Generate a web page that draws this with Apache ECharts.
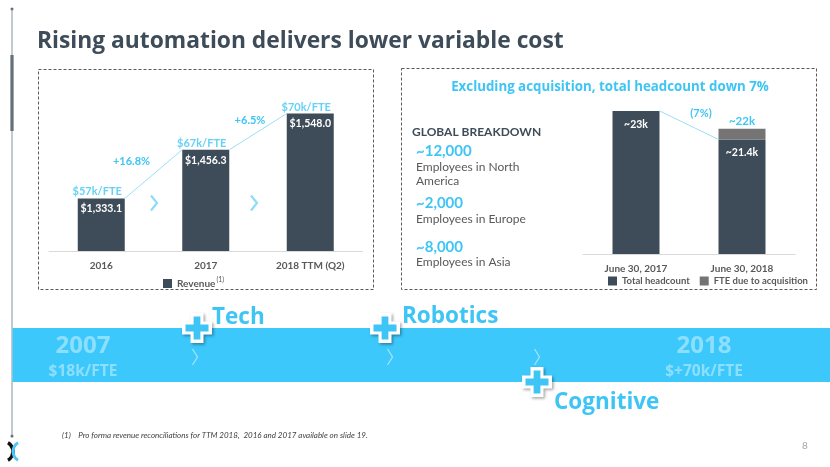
<!DOCTYPE html>
<html>
<head>
<meta charset="utf-8">
<script src="https://cdn.jsdelivr.net/npm/echarts@6/dist/echarts.min.js"></script>
<style>
html,body{margin:0;padding:0;background:#fff;}
#c{width:830px;height:467px;}
</style>
</head>
<body>
<div id="c"></div>
<script>
// ---------- data ----------
const pageTitle = 'Rising automation delivers lower variable cost';
const revenueCats = ['2016', '2017', '2018 TTM (Q2)'];
const revenue = [1333.1, 1456.3, 1548.0];
const revenueLabels = ['$1,333.1', '$1,456.3', '$1,548.0'];
const fteLabels = ['$57k/FTE', '$67k/FTE', '$70k/FTE'];
const growthLabels = ['+16.8%', '+6.5%'];

const headcountTitle = 'Excluding acquisition, total headcount down 7%';
const headcountCats = ['June 30, 2017', 'June 30, 2018'];
const totalHeadcount = [23, 21.4];
const acquisitionFte = ['-', 0.6];
const headcountLabels = ['~23k', '~21.4k'];
const stackTotalLabels = ['', '~22k'];
const headcountChange = ['(7%)'];

const breakdownTitle = 'GLOBAL BREAKDOWN';
const breakdownValues = ['~12,000', '~2,000', '~8,000'];
const breakdownLabels = ['Employees in North\nAmerica', 'Employees in Europe', 'Employees in Asia'];

const timelineYears = ['2007', '2018'];
const timelineFte = ['$18k/FTE', '$+70k/FTE'];
const timelineSteps = ['Tech', 'Robotics', 'Cognitive'];
const footnote = '(1)    Pro forma revenue reconciliations for TTM 2018,  2016 and 2017 available on slide 19.';
const pageNumber = '8';

// ---------- style ----------
const FONT = 'Lato, "Open Sans", sans-serif';
const WFONT = '"Open Sans", Lato, sans-serif';
const DARK = '#3e4c59';
const CYAN = '#3ec5f5';
const LINE_CYAN = '#9adff8';
const BAND = '#3cc8fb';
const GREY_BAR = '#747474';
const AXIS_TXT = '#595959';
const LEFT_BAR_W = 47;
const RIGHT_BAR_W = 47;
const growthLabelOffsets = [[-22, -13], [-8, -11]];

const chart = echarts.init(document.getElementById('c'), null, {renderer: 'canvas'});

function crossPts(cx, cy, L, T) {
  return [
    [cx - T, cy - L], [cx + T, cy - L], [cx + T, cy - T], [cx + L, cy - T],
    [cx + L, cy + T], [cx + T, cy + T], [cx + T, cy + L], [cx - T, cy + L],
    [cx - T, cy + T], [cx - L, cy + T], [cx - L, cy - T], [cx - T, cy - T]
  ];
}
function plusIcon(cx, cy) {
  return [
    {type: 'polygon', z: 30, shape: {points: crossPts(cx, cy, 15, 6.5)},
      style: {fill: '#fff', shadowBlur: 3, shadowColor: 'rgba(0,0,0,0.35)', shadowOffsetX: 1.5, shadowOffsetY: 1.5}},
    {type: 'polygon', z: 31, shape: {points: crossPts(cx, cy, 11.5, 3.4)}, style: {fill: CYAN}}
  ];
}
function chevron(x, y, w, h, color, lw, z) {
  return {type: 'polyline', z: z || 3, shape: {points: [[x - w / 2, y - h / 2], [x + w / 2, y], [x - w / 2, y + h / 2]]},
    style: {stroke: color, lineWidth: lw, fill: null}};
}

const graphics = [
  // left vertical rule
  {type: 'line', shape: {x1: 12, y1: 9, x2: 12, y2: 436}, style: {stroke: '#8a949e', lineWidth: 1}, z: 1},
  {type: 'circle', shape: {cx: 12, cy: 9, r: 1.5}, style: {fill: '#5c6670'}},
  {type: 'circle', shape: {cx: 12, cy: 436, r: 1.5}, style: {fill: '#5c6670'}},
  {type: 'rect', shape: {x: 10.5, y: 55, width: 3, height: 76}, style: {fill: DARK}},
  // title
  {type: 'text', x: 37, y: 42, style: {text: pageTitle, font: 'bold 22.8px ' + WFONT, fill: DARK, verticalAlign: 'middle'}},
  // dashed boxes
  {type: 'rect', shape: {x: 38.5, y: 69.5, width: 335, height: 220}, style: {fill: 'none', stroke: '#595959', lineWidth: 1, lineDash: [3, 2]}},
  {type: 'rect', shape: {x: 401.5, y: 68.5, width: 415, height: 221}, style: {fill: 'none', stroke: '#595959', lineWidth: 1, lineDash: [3, 2]}},
  // chevrons between revenue bars
  chevron(154, 203, 6, 15, '#8fdcf8', 2.2),
  chevron(254, 203, 6, 15, '#8fdcf8', 2.2),
  // headcount title
  {type: 'text', x: 610, y: 87, style: {text: headcountTitle, font: 'bold 13.3px ' + WFONT, fill: CYAN, align: 'center', verticalAlign: 'middle'}},
  // breakdown
  {type: 'text', x: 412, y: 132, style: {text: breakdownTitle, font: 'bold 12px ' + FONT, fill: DARK, verticalAlign: 'middle'}},
  {type: 'text', x: 416, y: 151, style: {text: breakdownValues[0], font: 'bold 15px ' + FONT, fill: CYAN, verticalAlign: 'middle'}},
  {type: 'text', x: 416, y: 174, style: {text: breakdownLabels[0], font: '12px ' + FONT, fill: AXIS_TXT, verticalAlign: 'middle', lineHeight: 14}},
  {type: 'text', x: 416, y: 203, style: {text: breakdownValues[1], font: 'bold 15px ' + FONT, fill: CYAN, verticalAlign: 'middle'}},
  {type: 'text', x: 416, y: 219, style: {text: breakdownLabels[1], font: '12px ' + FONT, fill: AXIS_TXT, verticalAlign: 'middle'}},
  {type: 'text', x: 416, y: 247, style: {text: breakdownValues[2], font: 'bold 15px ' + FONT, fill: CYAN, verticalAlign: 'middle'}},
  {type: 'text', x: 416, y: 262, style: {text: breakdownLabels[2], font: '12px ' + FONT, fill: AXIS_TXT, verticalAlign: 'middle'}},
  // timeline band
  {type: 'rect', shape: {x: 12.5, y: 328, width: 818, height: 54}, style: {fill: BAND}, z: 2},
  {type: 'text', x: 83, y: 346, z: 3, style: {text: timelineYears[0], font: 'bold 24px ' + WFONT, fill: 'rgba(255,255,255,0.42)', align: 'center', verticalAlign: 'middle'}},
  {type: 'text', x: 83, y: 372, z: 3, style: {text: timelineFte[0], font: 'bold 15.5px ' + WFONT, fill: 'rgba(255,255,255,0.42)', align: 'center', verticalAlign: 'middle'}},
  {type: 'text', x: 704, y: 346, z: 3, style: {text: timelineYears[1], font: 'bold 24px ' + WFONT, fill: 'rgba(255,255,255,0.42)', align: 'center', verticalAlign: 'middle'}},
  {type: 'text', x: 704, y: 372, z: 3, style: {text: timelineFte[1], font: 'bold 15.5px ' + WFONT, fill: 'rgba(255,255,255,0.42)', align: 'center', verticalAlign: 'middle'}},
  chevron(195, 357, 5, 16, 'rgba(255,255,255,0.5)', 1.3),
  chevron(390, 357, 5, 16, 'rgba(255,255,255,0.5)', 1.3),
  chevron(537, 357, 5, 16, 'rgba(255,255,255,0.5)', 1.3)
].concat(plusIcon(197, 328), plusIcon(385, 328), plusIcon(537, 382), [
  {type: 'text', x: 212, y: 318, z: 32, style: {text: timelineSteps[0], font: 'bold 22.5px ' + WFONT, fill: CYAN, verticalAlign: 'middle'}},
  {type: 'text', x: 402, y: 317, z: 32, style: {text: timelineSteps[1], font: 'bold 22.5px ' + WFONT, fill: CYAN, verticalAlign: 'middle'}},
  {type: 'text', x: 554, y: 403, z: 32, style: {text: timelineSteps[2], font: 'bold 22.5px ' + WFONT, fill: CYAN, verticalAlign: 'middle'}},
  // footnote, page number, logo
  {type: 'text', x: 62, y: 435, style: {text: footnote, font: 'italic 8px ' + FONT, fill: '#404040', verticalAlign: 'middle'}},
  {type: 'text', x: 805, y: 446, style: {text: pageNumber, font: '10px ' + FONT, fill: '#a6a6a6', align: 'center', verticalAlign: 'middle'}},
  {type: 'arc', shape: {cx: 3, cy: 451.5, r: 10, startAngle: -1.05, endAngle: 1.05}, style: {stroke: '#111', lineWidth: 3.4, fill: null}},
  {type: 'arc', shape: {cx: 23, cy: 451.5, r: 10, startAngle: Math.PI - 1.05, endAngle: Math.PI + 1.05}, style: {stroke: '#4cc8f5', lineWidth: 2.8, fill: null}}
]);

function connectorItem(values, labels, barW, offsets) {
  return function (params, api) {
    const i = api.value(0);
    const p0 = api.coord([i, values[i]]);
    const p1 = api.coord([i + 1, values[i + 1]]);
    const x1 = p0[0] + barW / 2, y1 = p0[1];
    const x2 = p1[0] - barW / 2, y2 = p1[1];
    const mx = (x1 + x2) / 2, my = (y1 + y2) / 2;
    const off = offsets[i];
    return {
      type: 'group',
      children: [
        {type: 'line', shape: {x1: x1, y1: y1, x2: x2, y2: y2}, style: {stroke: LINE_CYAN, lineWidth: 1}},
        {type: 'text', style: {text: labels[i], x: mx + off[0], y: my + off[1], align: 'center',
          verticalAlign: 'middle', fill: CYAN, font: 'bold 11px ' + FONT}}
      ]
    };
  };
}

const option = {
  animation: false,
  textStyle: {fontFamily: FONT},
  graphic: graphics,
  legend: [
    {
      left: 158, top: 271, itemWidth: 9, itemHeight: 9, itemGap: 10, icon: 'rect',
      data: ['Revenue'],
      formatter: function (n) { return n + '{sup|(1)}'; },
      textStyle: {fontSize: 10, fontWeight: 'bold', color: AXIS_TXT, fontFamily: FONT,
        rich: {sup: {fontSize: 7, fontWeight: 'normal', color: AXIS_TXT, fontFamily: FONT, padding: [0, 0, 8, 1]}}}
    },
    {
      left: 603, top: 271, itemWidth: 9, itemHeight: 9, itemGap: 10, icon: 'rect',
      data: ['Total headcount', 'FTE due to acquisition'],
      textStyle: {fontSize: 9.5, fontWeight: 'bold', color: AXIS_TXT, fontFamily: FONT}
    }
  ],
  grid: [
    {left: 49, top: 93, width: 313.5, height: 158},
    {left: 583, top: 93, width: 212, height: 161}
  ],
  xAxis: [
    {gridIndex: 0, type: 'category', data: revenueCats,
      axisLine: {lineStyle: {color: '#d9d9d9'}}, axisTick: {show: false},
      axisLabel: {margin: 10, fontSize: 10, fontWeight: 'bold', color: AXIS_TXT, fontFamily: FONT}},
    {gridIndex: 1, type: 'category', data: headcountCats,
      axisLine: {lineStyle: {color: '#d9d9d9'}}, axisTick: {show: false},
      axisLabel: {margin: 10, fontSize: 10, fontWeight: 'bold', color: AXIS_TXT, fontFamily: FONT}}
  ],
  yAxis: [
    {gridIndex: 0, type: 'value', min: 1200, max: 1600, show: false, splitLine: {show: false}},
    {gridIndex: 1, type: 'value', min: 15, max: 24, show: false, splitLine: {show: false}}
  ],
  series: [
    {
      name: 'Revenue', type: 'bar', xAxisIndex: 0, yAxisIndex: 0, barWidth: LEFT_BAR_W,
      data: revenue, itemStyle: {color: DARK},
      label: {show: true, position: 'insideTop', distance: 5, color: '#fff', fontSize: 10.5, fontWeight: 'bold', fontFamily: FONT,
        formatter: function (p) { return revenueLabels[p.dataIndex]; }}
    },
    {
      name: 'FTE', type: 'scatter', xAxisIndex: 0, yAxisIndex: 0, symbolSize: 0, data: revenue,
      label: {show: true, position: 'top', distance: 1, offset: [-4, 0], color: CYAN, fontSize: 11, fontWeight: 'bold', fontFamily: FONT,
        formatter: function (p) { return fteLabels[p.dataIndex]; }},
      silent: true
    },
    {
      name: 'Growth', type: 'custom', xAxisIndex: 0, yAxisIndex: 0, silent: true,
      data: revenue.slice(0, -1).map(function (v, i) { return [i, v]; }),
      renderItem: connectorItem(revenue, growthLabels, LEFT_BAR_W, growthLabelOffsets),
      z: 5
    },
    {
      name: 'Total headcount', type: 'bar', stack: 'hc', xAxisIndex: 1, yAxisIndex: 1, barWidth: RIGHT_BAR_W,
      data: totalHeadcount, itemStyle: {color: DARK},
      label: {show: true, position: 'insideTop', distance: 8, color: '#fff', fontSize: 10.5, fontWeight: 'bold', fontFamily: FONT,
        formatter: function (p) { return headcountLabels[p.dataIndex]; }}
    },
    {
      name: 'FTE due to acquisition', type: 'bar', stack: 'hc', xAxisIndex: 1, yAxisIndex: 1, barWidth: RIGHT_BAR_W,
      data: acquisitionFte, itemStyle: {color: GREY_BAR},
      label: {show: true, position: 'top', distance: 1, color: CYAN, fontSize: 11.5, fontWeight: 'bold', fontFamily: FONT,
        formatter: function (p) { return stackTotalLabels[p.dataIndex]; }}
    },
    {
      name: 'Change', type: 'custom', xAxisIndex: 1, yAxisIndex: 1, silent: true,
      data: totalHeadcount.slice(0, -1).map(function (v, i) { return [i, v]; }),
      renderItem: connectorItem(totalHeadcount, headcountChange, RIGHT_BAR_W, [[12, -12]]),
      z: 5
    }
  ]
};
chart.setOption(option);
</script>
</body>
</html>
